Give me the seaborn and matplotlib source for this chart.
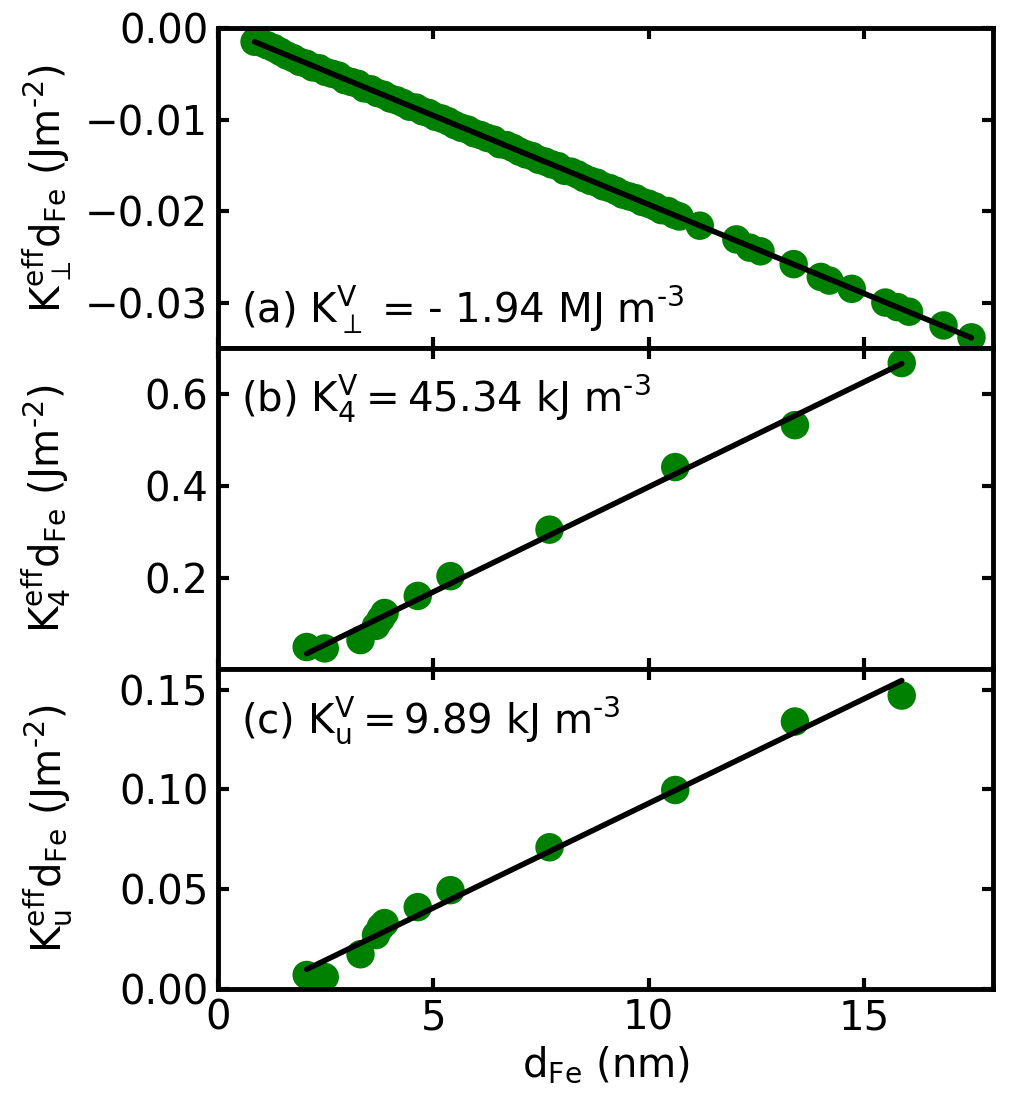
import numpy as np
import pandas as pd
import matplotlib
matplotlib.use('Agg')
import matplotlib.pyplot as plt
import seaborn as sns

# Panel (a): K_perp^eff * d_Fe vs d_Fe (dense region + sparse points)
d_perp = [0.85, 1.00, 1.15, 1.30, 1.45, 1.60, 1.75, 1.90, 2.05, 2.20, 2.35, 2.50,
          2.65, 2.80, 2.95, 3.10, 3.25, 3.40, 3.55, 3.70, 3.85, 4.00, 4.15, 4.30,
          4.45, 4.60, 4.75, 4.90, 5.05, 5.20, 5.35, 5.50, 5.65, 5.80, 5.95, 6.10,
          6.25, 6.40, 6.55, 6.70, 6.85, 7.00, 7.15, 7.30, 7.45, 7.60, 7.75, 7.90,
          8.05, 8.20, 8.35, 8.50, 8.65, 8.80, 8.95, 9.10, 9.25, 9.40, 9.55, 9.70,
          9.85, 10.00, 10.15, 10.30, 10.45, 10.60, 10.72,
          11.19, 12.04, 12.35, 12.60, 13.37, 14.00, 14.20, 14.72, 15.50, 15.78,
          16.05, 16.85, 17.50]
k_perp = [-0.0015, -0.0016, -0.0019, -0.0022, -0.0026, -0.0030, -0.0033, -0.0037,
          -0.0039, -0.0043, -0.0044, -0.0048, -0.0050, -0.0052, -0.0057, -0.0059,
          -0.0061, -0.0066, -0.0067, -0.0071, -0.0073, -0.0077, -0.0079, -0.0082,
          -0.0086, -0.0087, -0.0091, -0.0093, -0.0097, -0.0099, -0.0102, -0.0106,
          -0.0109, -0.0111, -0.0115, -0.0117, -0.0120, -0.0122, -0.0127, -0.0128,
          -0.0131, -0.0135, -0.0138, -0.0140, -0.0144, -0.0146, -0.0149, -0.0151,
          -0.0156, -0.0157, -0.0160, -0.0164, -0.0167, -0.0169, -0.0173, -0.0175,
          -0.0178, -0.0182, -0.0184, -0.0186, -0.0190, -0.0192, -0.0195, -0.0199,
          -0.0200, -0.0204, -0.0206,
          -0.0216, -0.0231, -0.0240, -0.0244, -0.0258, -0.0272, -0.0276, -0.0285,
          -0.0300, -0.0305, -0.0310, -0.0325, -0.0338]

# Panels (b) and (c) share the same thicknesses
d_fe = [2.06, 2.48, 3.31, 3.67, 3.78, 3.87, 4.64, 5.40, 7.70, 10.62, 13.40, 15.88]
k_4 = [0.051, 0.048, 0.066, 0.097, 0.112, 0.125, 0.162, 0.205, 0.306, 0.442, 0.533, 0.668]
k_u = [0.007, 0.006, 0.0174, 0.027, 0.031, 0.033, 0.041, 0.0495, 0.071, 0.0997, 0.134, 0.147]

sns.set_style('ticks')
plt.rcParams['font.family'] = ['DejaVu Sans']
plt.rcParams['mathtext.default'] = 'regular'
for key in ['text.color', 'axes.labelcolor', 'xtick.color', 'ytick.color', 'axes.edgecolor']:
    plt.rcParams[key] = 'black'

fs = 29
green = '#008000'
fig, axes = plt.subplots(3, 1, figsize=(10.36, 10.98), dpi=100, sharex=True)
fig.subplots_adjust(left=0.2104, right=0.9585, top=0.9745, bottom=0.0993, hspace=0)

panels = [
    (d_perp, k_perp, r'$K_{\perp}^{eff}d_{Fe}$ (Jm$^{\text{-}2}$)',
     r'(a) $K_{\perp}^{V}$ = - 1.94 MJ m$^{\text{-}3}$', 0.078, (-0.035, 0.0),
     [-0.03, -0.02, -0.01, 0.0], '{:.2f}'),
    (d_fe, k_4, r'$K_{4}^{eff}d_{Fe}$ (Jm$^{\text{-}2}$)',
     r'(b) $K_{4}^{V} = 45.34$ kJ m$^{\text{-}3}$', 0.80, (0.004, 0.70),
     [0.2, 0.4, 0.6], '{:.1f}'),
    (d_fe, k_u, r'$K_{u}^{eff}d_{Fe}$ (Jm$^{\text{-}2}$)',
     r'(c) $K_{u}^{V} = 9.89$ kJ m$^{\text{-}3}$', 0.80, (0.0, 0.1605),
     [0.0, 0.05, 0.10, 0.15], '{:.2f}'),
]

for ax, (x, y, ylab, note, ny, ylim, yticks, fmt) in zip(axes, panels):
    df = pd.DataFrame({'x': x, 'y': y})
    sns.scatterplot(data=df, x='x', y='y', ax=ax, color=green, s=420,
                    edgecolor='none', linewidth=0, zorder=2)
    sns.regplot(data=df, x='x', y='y', ax=ax, scatter=False, ci=None,
                truncate=True, color='black', line_kws={'linewidth': 4, 'zorder': 3})
    ax.set_ylim(*ylim)
    ax.set_yticks(yticks)
    ax.set_yticklabels([fmt.format(v).replace('-', '\u2212') for v in yticks])
    ax.set_ylabel(ylab, fontsize=fs, labelpad=8)
    ax.set_xlabel('')
    ax.text(0.03, ny, note, transform=ax.transAxes, fontsize=fs, va='baseline')
    ax.tick_params(direction='in', length=8, width=3, top=True, right=True,
                   labelsize=fs, pad=7)
    for sp in ax.spines.values():
        sp.set_linewidth(3.5)

axes[0].set_xlim(0, 18)
axes[-1].set_xticks([0, 5, 10, 15])
axes[-1].set_xlabel(r'$d_{Fe}$ (nm)', fontsize=fs, labelpad=4)
fig.align_ylabels(axes)

plt.savefig('out.png', dpi=100)
plt.close()
